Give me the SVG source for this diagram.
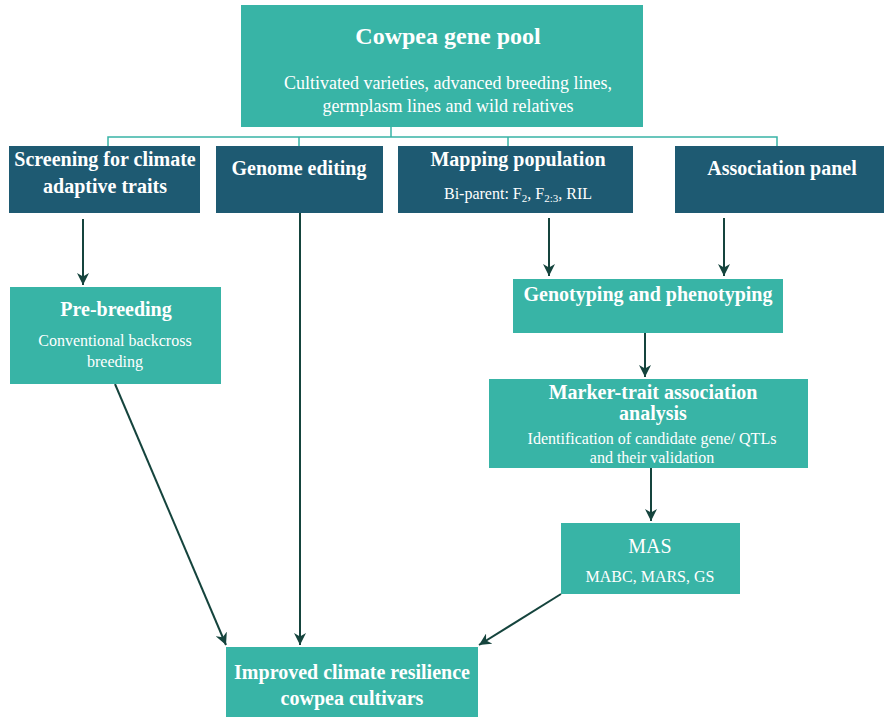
<svg xmlns="http://www.w3.org/2000/svg" width="884" height="717" viewBox="0 0 884 717">
<style>
.teal{fill:#38b4a6}
.dark{fill:#1e5a72}
.t{font-family:"Liberation Serif","Times New Roman",serif;fill:#fff;text-anchor:middle}
.b{font-weight:bold;font-size:20px}
.s{font-size:16px}
.tree{stroke:#38b4a6;stroke-width:1.5;fill:none}
.arr{stroke:#15443d;stroke-width:2;fill:none;marker-end:url(#ah)}
</style>
<defs>
<marker id="ah" markerWidth="12" markerHeight="12" refX="10" refY="5" orient="auto" markerUnits="userSpaceOnUse" viewBox="0 0 10 10">
<path d="M0,0 L10,5 L0,10 L3,5 z" fill="#15443d"/>
</marker>
</defs>
<rect width="884" height="717" fill="#fff"/>
<g id="connectors">
<path class="tree" d="M391,127 V137 M108,146 V137 H777 V146 M299,137 V146 M508,137 V146"/>
<line class="arr" x1="83" y1="219" x2="83" y2="285"/>
<line class="arr" x1="300" y1="213" x2="300" y2="645"/>
<line class="arr" x1="549" y1="218" x2="549" y2="276"/>
<line class="arr" x1="724" y1="218" x2="724" y2="276"/>
<line class="arr" x1="645" y1="333" x2="645" y2="377"/>
<line class="arr" x1="651" y1="468" x2="651" y2="521"/>
<line class="arr" x1="115" y1="384" x2="226" y2="645"/>
<line class="arr" x1="561" y1="594" x2="479" y2="645"/>
</g>
<g id="gene-pool">
<rect class="teal" x="241" y="5" width="402" height="122"/>
<text class="t" x="448" y="44" font-size="24" font-weight="bold">Cowpea gene pool</text>
<text class="t" x="448" y="89" font-size="18">Cultivated varieties, advanced breeding lines,</text>
<text class="t" x="448" y="112" font-size="18">germplasm lines and wild relatives</text>
</g>
<g id="screening">
<rect class="dark" x="9" y="146" width="191" height="67"/>
<text class="t b" x="105" y="166">Screening for climate</text>
<text class="t b" x="105" y="193">adaptive traits</text>
</g>
<g id="genome-editing">
<rect class="dark" x="216" y="146" width="167" height="67"/>
<text class="t b" x="299" y="175">Genome editing</text>
</g>
<g id="mapping">
<rect class="dark" x="398" y="146" width="235" height="67"/>
<text class="t b" x="518" y="166">Mapping population</text>
<text class="t s" x="518" y="199">Bi-parent: F<tspan font-size="11" dy="3">2</tspan><tspan dy="-3">, F</tspan><tspan font-size="11" dy="3">2:3</tspan><tspan dy="-3">, RIL</tspan></text>
</g>
<g id="association">
<rect class="dark" x="675" y="146" width="209" height="67"/>
<text class="t b" x="782" y="175">Association panel</text>
</g>
<g id="pre-breeding">
<rect class="teal" x="10" y="287" width="211" height="97"/>
<text class="t b" x="116" y="316">Pre-breeding</text>
<text class="t s" x="115" y="346">Conventional backcross</text>
<text class="t s" x="115" y="367">breeding</text>
</g>
<g id="genotyping">
<rect class="teal" x="513" y="279" width="270" height="54"/>
<text class="t b" x="648" y="301">Genotyping and phenotyping</text>
</g>
<g id="marker-trait">
<rect class="teal" x="489" y="379" width="319" height="89"/>
<text class="t b" x="653" y="399">Marker-trait association</text>
<text class="t b" x="653" y="420">analysis</text>
<text class="t s" x="652" y="444">Identification of candidate gene/ QTLs</text>
<text class="t s" x="652" y="463">and their validation</text>
</g>
<g id="mas">
<rect class="teal" x="561" y="523" width="179" height="71"/>
<text class="t" x="650" y="553" font-size="20">MAS</text>
<text class="t s" x="650" y="582">MABC, MARS, GS</text>
</g>
<g id="improved">
<rect class="teal" x="226" y="647" width="252" height="70"/>
<text class="t b" x="352" y="679">Improved climate resilience</text>
<text class="t b" x="352" y="705">cowpea cultivars</text>
</g>
</svg>
